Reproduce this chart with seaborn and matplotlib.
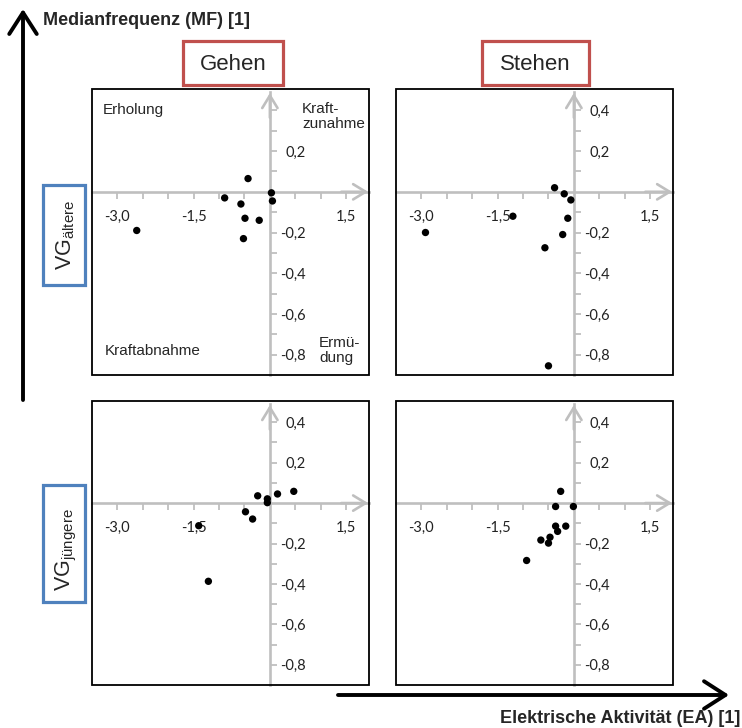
import matplotlib
matplotlib.use("Agg")
import matplotlib.pyplot as plt
import seaborn as sns
import pandas as pd
from matplotlib.patches import Rectangle, FancyArrowPatch

# ---------------- data ----------------
gehen_aeltere_ea = [-2.62, -0.43, -0.89, -0.57, 0.03, 0.05, -0.49, -0.21, -0.52]
gehen_aeltere_mf = [-0.19, 0.065, -0.03, -0.06, -0.005, -0.045, -0.13, -0.14, -0.23]

stehen_aeltere_ea = [-2.92, -1.20, -0.38, -0.19, -0.06, -0.12, -0.22, -0.57, -0.50]
stehen_aeltere_mf = [-0.20, -0.12, 0.02, -0.01, -0.04, -0.13, -0.21, -0.275, -0.855]

gehen_juengere_ea = [-1.40, -1.21, -0.48, -0.34, -0.24, -0.05, -0.05, 0.15, 0.47]
gehen_juengere_mf = [-0.112, -0.387, -0.043, -0.079, 0.036, 0.021, 0.002, 0.045, 0.058]

stehen_juengere_ea = [-0.26, -0.36, -0.01, -0.36, -0.16, -0.32, -0.47, -0.65, -0.50, -0.93]
stehen_juengere_mf = [0.058, -0.017, -0.017, -0.114, -0.114, -0.14, -0.169, -0.183, -0.198, -0.284]

condition_titles = ["Gehen", "Stehen"]
group_labels = ["ältere", "jüngere"]

x_ticks = [-3.0, -2.5, -2.0, -1.5, -1.0, -0.5, 0.5, 1.0, 1.5]
x_tick_labels = ["-3,0", "", "", "-1,5", "", "", "", "", "1,5"]
y_ticks = [0.4, 0.3, 0.2, 0.1, -0.1, -0.2, -0.3, -0.4, -0.5, -0.6, -0.7, -0.8]
y_tick_labels = ["0,4", "", "0,2", "", "", "-0,2", "", "-0,4", "", "-0,6", "", "-0,8"]

quadrant_labels = ["Erholung", "Kraft-\nzunahme", "Kraftabnahme", "Ermü-\ndung"]
y_title = "Medianfrequenz (MF) [1]"
x_title = "Elektrische Aktivität (EA) [1]"

# ---------------- style ----------------
sns.set_style("white")
plt.rcParams["font.family"] = ["Liberation Sans", "DejaVu Sans"]
plt.rcParams["mathtext.default"] = "regular"

W, H = 742, 728
fig = plt.figure(figsize=(W / 100, H / 100), dpi=100)
GRAY = "#bfbfbf"


def add_ax(l, t, r, b):
    return fig.add_axes([l / W, 1 - b / H, (r - l) / W, (b - t) / H])


panels = [
    (add_ax(92, 89, 369, 375), gehen_aeltere_ea, gehen_aeltere_mf, True),
    (add_ax(396, 89, 673, 375), stehen_aeltere_ea, stehen_aeltere_mf, False),
    (add_ax(92, 401, 369, 685), gehen_juengere_ea, gehen_juengere_mf, False),
    (add_ax(396, 401, 673, 685), stehen_juengere_ea, stehen_juengere_mf, False),
]

for ax, xs, ys, first in panels:
    df = pd.DataFrame({"EA": xs, "MF": ys})
    sns.scatterplot(data=df, x="EA", y="MF", ax=ax, color="black", s=28,
                    edgecolor="none", zorder=5, legend=False)
    ax.set_xlim(-3.5, 1.95)
    ax.set_ylim(-0.9, 0.505)
    ax.set_xlabel("")
    ax.set_ylabel("")
    ax.grid(False)

    ax.spines["top"].set_visible(False)
    ax.spines["left"].set_visible(False)
    ax.spines["bottom"].set_position(("data", 0))
    ax.spines["right"].set_position(("data", 0))
    for s in ["bottom", "right"]:
        ax.spines[s].set_color(GRAY)
        ax.spines[s].set_linewidth(1.9)
    ax.spines["right"].set_bounds(-0.9, 0.49)

    ax.xaxis.set_ticks_position("bottom")
    ax.yaxis.set_ticks_position("right")
    ax.set_xticks(x_ticks)
    ax.set_xticklabels(x_tick_labels)
    ax.set_yticks(y_ticks)
    ylabs = list(y_tick_labels)
    if first:
        ylabs[0] = ""
    ax.set_yticklabels(ylabs)
    ax.tick_params(axis="x", direction="out", length=5, width=1.3, color=GRAY,
                   pad=8, labelsize=10.5, labelcolor="#222222", labelfontfamily="Lato")
    ax.tick_params(axis="y", direction="out", length=5, width=1.3, color=GRAY,
                   pad=21, labelsize=10.5, labelcolor="#222222", labelfontfamily="Lato",
                   right=True, labelright=True, left=False, labelleft=False)
    for tk in ax.yaxis.get_major_ticks():
        tk.label2.set_horizontalalignment("right")

    # arrow heads on the axes
    ax.annotate("", xy=(0.997, 0), xytext=(0.9, 0), xycoords=ax.get_yaxis_transform(),
                textcoords=ax.get_yaxis_transform(),
                arrowprops=dict(arrowstyle="->,head_length=0.9,head_width=0.55",
                                color=GRAY, lw=1.9, mutation_scale=10,
                                shrinkA=0, shrinkB=0))
    ax.annotate("", xy=(0, 0.986), xytext=(0, 0.9), xycoords=ax.get_xaxis_transform(),
                textcoords=ax.get_xaxis_transform(),
                arrowprops=dict(arrowstyle="->,head_length=0.9,head_width=0.55",
                                color=GRAY, lw=1.9, mutation_scale=10,
                                shrinkA=0, shrinkB=0))
    # black frame
    ax.add_patch(Rectangle((0, 0), 1, 1, transform=ax.transAxes, fill=False,
                           ec="black", lw=1.3, clip_on=False, zorder=10))

# quadrant labels in the first panel
ax0 = panels[0][0]
qfs = 11
ax0.text(0.04, 0.95, quadrant_labels[0], transform=ax0.transAxes, ha="left", va="top", fontsize=qfs)
ax0.text(0.758, 0.955, quadrant_labels[1], transform=ax0.transAxes, ha="left", va="top",
         fontsize=qfs, linespacing=1.12)
ax0.text(0.047, 0.06, quadrant_labels[2], transform=ax0.transAxes, ha="left", va="bottom", fontsize=qfs)
ax0.text(0.82, 0.035, quadrant_labels[3], transform=ax0.transAxes, ha="left", va="bottom",
         fontsize=qfs, linespacing=1.12)

# condition header boxes
for (l, r), title in zip([(183, 283), (482, 589)], condition_titles):
    fig.add_artist(Rectangle((l / W, 1 - 85 / H), (r - l) / W, 44 / H, transform=fig.transFigure,
                             fill=False, ec="#c0504d", lw=2.3))
    fig.text((l + r) / 2 / W, 1 - 64 / H, title, ha="center", va="center", fontsize=16)

# group boxes (rotated)
for (t, b, cy), grp in zip([(185, 285, 235), (485, 602, 550)], group_labels):
    fig.add_artist(Rectangle((43 / W, 1 - b / H), 42 / W, (b - t) / H, transform=fig.transFigure,
                             fill=False, ec="#4f81bd", lw=2.3))
    fig.text(66 / W, 1 - cy / H, "VG$_{" + grp + "}$", rotation=90, ha="center", va="center",
             fontsize=15.5)

# big axis arrows
fig.add_artist(FancyArrowPatch((23 / W, 1 - 400 / H), (23 / W, 1 - 9 / H), transform=fig.transFigure,
                               arrowstyle="->,head_length=0.7,head_width=0.45", mutation_scale=22,
                               lw=2.8, color="black", shrinkA=0, shrinkB=0))
fig.add_artist(FancyArrowPatch((338 / W, 1 - 695 / H), (729 / W, 1 - 695 / H), transform=fig.transFigure,
                               arrowstyle="->,head_length=0.7,head_width=0.45", mutation_scale=22,
                               lw=2.8, color="black", shrinkA=0, shrinkB=0))
fig.text(43 / W, 1 - 25 / H, y_title, ha="left", va="baseline", fontsize=13, fontweight="bold")
fig.text(740 / W, 1 - 723 / H, x_title, ha="right", va="baseline", fontsize=13, fontweight="bold")

fig.savefig("out.png", dpi=100, facecolor="white")
